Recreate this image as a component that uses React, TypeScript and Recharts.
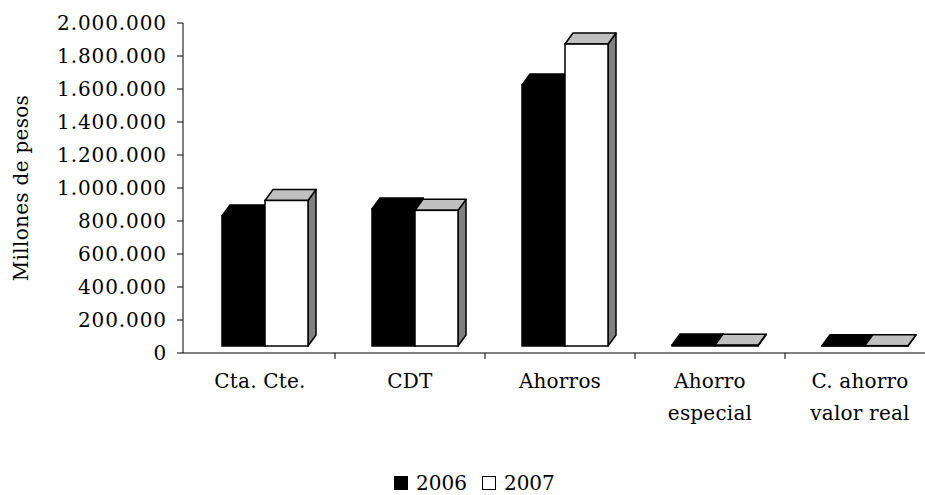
import React from 'react';
import { BarChart, Bar, XAxis, YAxis, Legend } from 'recharts';

const categories = ['Cta. Cte.', 'CDT', 'Ahorros', 'Ahorro\nespecial', 'C. ahorro\nvalor real'];
const values2006 = [788000, 830000, 1582000, 6000, 2000];
const values2007 = [882000, 822000, 1830000, 5000, 2000];
const yTicks = [0, 200000, 400000, 600000, 800000, 1000000, 1200000, 1400000, 1600000, 1800000, 2000000];
const seriesNames = ['2006', '2007'];
const yAxisTitle = 'Millones de pesos';

const data = categories.map((name, i) => ({ name, v2006: values2006[i], v2007: values2007[i] }));

const FONT = '"DejaVu Serif", serif';
const DX = 8;
const DY = 11;
const SHIFT_X = 5;
const SHIFT_Y = 7;

const fmt = (v: number) => String(v).replace(/\B(?=(\d{3})+(?!\d))/g, '.');

function makeBar3D(front: string, top: string, side: string, stroke: string, sw: number) {
  return (props: any) => {
    const { x, y, width, height } = props;
    if (x == null || y == null || width == null) return <g />;
    const X = x + SHIFT_X;
    const Y = y - SHIFT_Y;
    const W = width;
    const H = Math.max(height || 0, 0);
    const sidePts = `${X + W},${Y} ${X + W + DX},${Y - DY} ${X + W + DX},${Y + H - DY} ${X + W},${Y + H}`;
    const topPts = `${X},${Y} ${X + W},${Y} ${X + W + DX},${Y - DY} ${X + DX},${Y - DY}`;
    return (
      <g>
        <polygon points={sidePts} fill={side} stroke={stroke} strokeWidth={sw} strokeLinejoin="round" />
        <polygon points={topPts} fill={top} stroke={stroke} strokeWidth={sw} strokeLinejoin="round" />
        <rect x={X} y={Y} width={W} height={H} fill={front} stroke={stroke} strokeWidth={sw} />
      </g>
    );
  };
}

const Bar2006 = makeBar3D('#000000', '#000000', '#000000', '#000000', 1.5);
const Bar2007 = makeBar3D('#ffffff', '#c0c0c0', '#808080', '#000000', 1.5);

function XTick(props: any) {
  const { x, y, payload } = props;
  const lines = String(payload.value).split('\n');
  const off = payload.offset ?? 0;
  return (
    <g>
      <line x1={x + off} x2={x + off} y1={y - 6} y2={y} stroke="#000" strokeWidth={1} />
      <text x={x} y={y + 29} textAnchor="middle" fontFamily={FONT} fontSize={20} fill="#000" letterSpacing={0.2}>
        {lines.map((l, i) => (
          <tspan key={i} x={x} dy={i === 0 ? 0 : 32}>
            {l}
          </tspan>
        ))}
      </text>
    </g>
  );
}

function LegendContent(props: any) {
  const payload = props.payload || [];
  return (
    <div style={{ display: 'flex', alignItems: 'center', fontFamily: FONT, fontSize: 20, color: '#000', lineHeight: '22px', whiteSpace: 'nowrap' }}>
      {payload.map((entry: any, i: number) => (
        <div key={i} style={{ display: 'flex', alignItems: 'center', marginRight: i === 0 ? 15 : 0 }}>
          <span
            style={{
              display: 'inline-block',
              width: 12,
              height: 12,
              background: entry.color,
              border: '1.5px solid #000',
              marginRight: 8,
            }}
          />
          <span>{entry.value}</span>
        </div>
      ))}
    </div>
  );
}

export default function App() {
  return (
    <div style={{ position: 'absolute', left: 0, top: 0, width: 925, height: 495, overflow: 'hidden', background: '#fff' }}>
      <BarChart
        width={935}
        height={495}
        data={data}
        margin={{ top: 23, right: 0, bottom: 82, left: 0 }}
        barGap={0}
        barSize={43}
      >
        <XAxis
          dataKey="name"
          interval={0}
          height={60}
          padding={{ left: 2, right: 0 }}
          tickLine={false}
          tickSize={6}
          tickMargin={0}
          axisLine={{ stroke: '#000', strokeWidth: 1 }}
          tick={<XTick />}
        />
        <YAxis
          width={183}
          domain={[0, 2000000]}
          ticks={yTicks}
          interval={0}
          tickFormatter={fmt}
          tickSize={6}
          tickMargin={10}
          axisLine={{ stroke: '#000', strokeWidth: 1 }}
          tickLine={{ stroke: '#000', strokeWidth: 1 }}
          tick={{ fontSize: 20, fontFamily: FONT, fill: '#000', letterSpacing: 0.9 }}
          label={{
            value: yAxisTitle,
            angle: -90,
            position: 'insideLeft',
            offset: 21,
            style: { textAnchor: 'middle', fontFamily: FONT, fontSize: 20, fill: '#000', letterSpacing: 0.3 },
          }}
        />
        <Legend
          layout="vertical"
          align="center"
          verticalAlign="middle"
          wrapperStyle={{ position: 'absolute', left: 394, top: 472, width: 'auto', height: 'auto' }}
          content={<LegendContent />}
        />
        <Bar dataKey="v2006" name={seriesNames[0]} fill="#000000" shape={Bar2006} isAnimationActive={false} />
        <Bar dataKey="v2007" name={seriesNames[1]} fill="#ffffff" shape={Bar2007} isAnimationActive={false} />
      </BarChart>
    </div>
  );
}
